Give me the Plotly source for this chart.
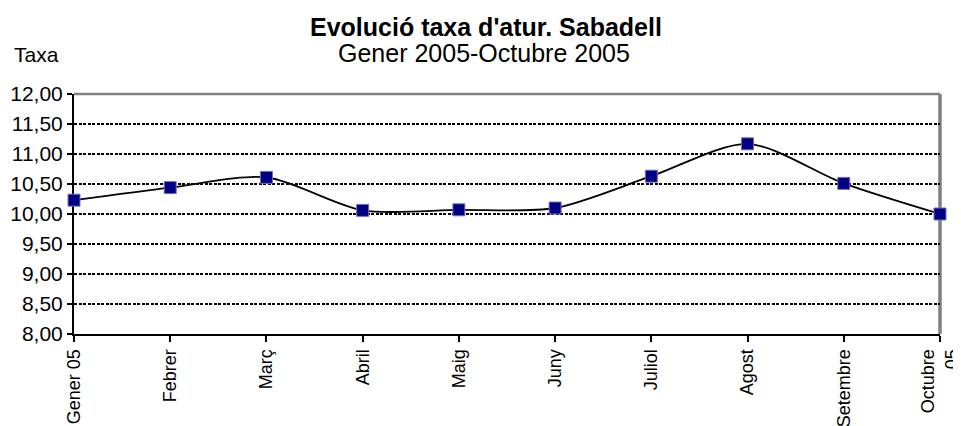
from plotly import graph_objects as go


months = ["Gener 05", "Febrer", "Març", "Abril", "Maig", "Juny", "Juliol", "Agost", "Setembre", "Octubre<br>05"]
taxa = [10.23, 10.44, 10.61, 10.06, 10.07, 10.10, 10.63, 11.17, 10.51, 10.00]
y_ticks = [8.0, 8.5, 9.0, 9.5, 10.0, 10.5, 11.0, 11.5, 12.0]

FONT = "Liberation Sans, Arial, sans-serif"

# the page body has an 8px margin, so the figure is sized to fill the rest
PAGE_OFFSET = 8


def create_figure():
    """Build the unemployment rate line chart."""
    x = list(range(len(months)))
    fig = go.Figure()

    # smoothed line
    fig.add_trace(
        go.Scatter(
            x=x,
            y=taxa,
            mode="lines",
            line=dict(color="black", width=1.8, shape="spline", smoothing=0.8),
            showlegend=False,
            hoverinfo="skip",
            cliponaxis=False,
        )
    )
    # square markers
    fig.add_trace(
        go.Scatter(
            x=x,
            y=taxa,
            mode="markers",
            marker=dict(symbol="square", size=12, color="#000080",
                        line=dict(color="#7070c8", width=1)),
            showlegend=False,
            cliponaxis=False,
        )
    )

    fig.update_layout(
        width=961 - PAGE_OFFSET,
        height=426 - PAGE_OFFSET,
        margin=dict(l=74 - PAGE_OFFSET, r=21, t=94 - PAGE_OFFSET, b=92),
        paper_bgcolor="white",
        plot_bgcolor="white",
        separators=",.",
        font=dict(family=FONT, color="black"),
        xaxis=dict(
            range=[0, 9],
            tickmode="array",
            tickvals=x,
            ticktext=months,
            tickangle=-90,
            tickfont=dict(size=18),
            ticklabeloverflow="allow",
            ticks="outside",
            ticklen=6,
            tickwidth=2,
            tickcolor="black",
            showline=True,
            linecolor="black",
            linewidth=2,
            showgrid=False,
            zeroline=False,
            automargin=False,
            layer="below traces",
        ),
        yaxis=dict(
            range=[8, 12],
            tickmode="array",
            tickvals=y_ticks,
            tickformat=".2f",
            tickfont=dict(size=21),
            ticklabeloverflow="allow",
            ticks="outside",
            ticklen=5,
            tickwidth=2,
            tickcolor="black",
            showline=True,
            linecolor="black",
            linewidth=2,
            showgrid=True,
            gridcolor="black",
            gridwidth=1.5,
            griddash="3px,1.5px",
            zeroline=False,
            automargin=False,
            layer="below traces",
        ),
        shapes=[
            dict(type="line", xref="paper", yref="paper", x0=0, x1=1, y0=1, y1=1,
                 line=dict(color="#808080", width=2.5), layer="between"),
            dict(type="line", xref="paper", yref="paper", x0=1, x1=1, y0=0, y1=1,
                 line=dict(color="#808080", width=3.5), layer="between"),
        ],
        annotations=[
            dict(text="<b>Evolució taxa d'atur. Sabadell</b>", xref="paper", yref="paper",
                 x=(486 - 74) / 866, y=(334 - 27) / 240, xanchor="center", yanchor="middle",
                 showarrow=False, font=dict(size=25)),
            dict(text="Gener 2005-Octubre 2005", xref="paper", yref="paper",
                 x=(484 - 74) / 866, y=(334 - 53) / 240, xanchor="center", yanchor="middle",
                 showarrow=False, font=dict(size=25)),
            dict(text="Taxa", xref="paper", yref="paper",
                 x=(12 - 74) / 866, y=(334 - 55) / 240, xanchor="left", yanchor="middle",
                 showarrow=False, font=dict(size=21)),
        ],
    )
    return fig


fig = create_figure()
fig.write_html("out.html")
